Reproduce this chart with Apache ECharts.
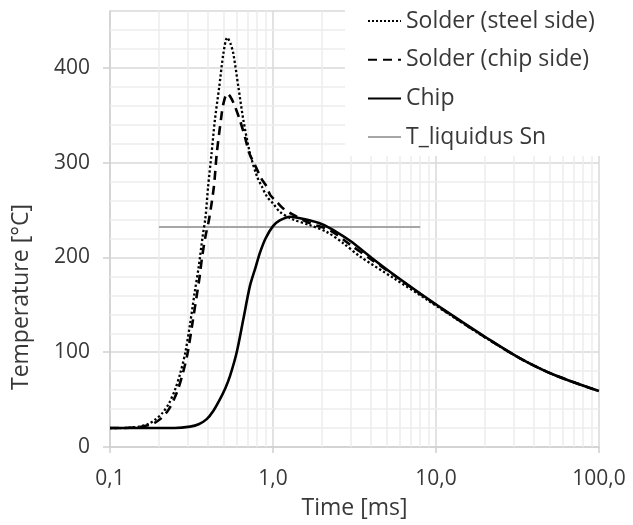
<!DOCTYPE html>
<html>
<head>
<meta charset="utf-8">
<script src="https://cdn.jsdelivr.net/npm/echarts@6/dist/echarts.min.js"></script>
<style>
html,body{margin:0;padding:0;background:#fff;}
#chart{width:633px;height:525px;}
</style>
</head>
<body>
<div id="chart"></div>
<script>
// ---- data ----
var steelTime = [0.1,0.12,0.15,0.17,0.19,0.21,0.23,0.25,0.27,0.29,0.31,0.33,0.35,0.37,0.385,0.40,0.42,0.44,0.468,0.496,0.524,0.55,0.571,0.613,0.658,0.722,0.80,0.853,0.92,1.0,1.104,1.33,1.69,2.13,2.7,3.42,5.47,8.77,12.8,20.5,32.8,52.4,100];
var steelTemp = [20,20,21.5,24,29,36,46,60,78,100,130,162,190,222,242,275,310,345,380,415,432,425,415,380,345,310,285,275,264,257,248,240,234,227,215,201,178.4,155.6,137,114.5,93.5,76.5,59];

var chipSideTime = [0.1,0.12,0.15,0.18,0.203,0.23,0.257,0.28,0.3,0.32,0.34,0.355,0.367,0.385,0.405,0.434,0.452,0.479,0.496,0.524,0.545,0.576,0.626,0.673,0.715,0.772,0.85,0.913,0.96,1.05,1.15,1.3,1.69,2.22,3,4,5.5,8,12.8,20.5,32.8,52.4,100];
var chipSideTemp = [20,20,21,24,29.4,40,57.5,78,100,130,159,180,200,222,240,275,310,345,362,373,370,362,345,327,310,298,283,275,266,259,252,246,236,229,213,198,181.5,161.5,137.5,114.7,93.5,76.5,59];

var chipTime = [0.1,0.2,0.25,0.31,0.35,0.392,0.43,0.473,0.51,0.545,0.599,0.658,0.722,0.78,0.832,0.9,1.0,1.1,1.27,1.6,2.0,2.5,3,4,5.5,8,12.8,20.5,32.8,52.4,100];
var chipTemp = [20,20,20,21.5,24,29.4,38,50.5,62,75,100,135,170,189,205,220,233,239,243,240,235,226,217,200,182,162,138,115,93.5,76.5,59];

var liquidusTime = [0.2, 8];
var liquidusTemp = [232, 232];

var xMinorGrid = [0.2,0.3,0.4,0.5,0.6,0.7,0.8,0.9,2,3,4,5,6,7,8,9,20,30,40,50,60,70,80,90];
var yMinorGrid = [20,40,60,80,120,140,160,180,220,240,260,280,320,340,360,380,420,440];

var seriesNames = ['Solder (steel side)','Solder (chip side)','Chip','T_liquidus Sn'];

function zip(a, b){ return a.map(function(v,i){ return [v, b[i]]; }); }

var gridLines = [];
xMinorGrid.forEach(function(v){ gridLines.push({xAxis: v}); });
yMinorGrid.forEach(function(v){ gridLines.push({yAxis: v}); });

var FONT = '"Open Sans", "Liberation Sans", sans-serif';
var TXT = '#383838';

var chart = echarts.init(document.getElementById('chart'), null, {renderer:'canvas'});
chart.setOption({
  animation: false,
  backgroundColor: '#fff',
  textStyle: {fontFamily: FONT},
  grid: {left: 110, right: 34, top: 11, bottom: 77, containLabel: false},
  legend: {
    data: seriesNames,
    orient: 'vertical',
    left: 345, top: 0,
    padding: [8, 10, 6, 22],
    backgroundColor: '#fff',
    itemWidth: 33, itemHeight: 14, itemGap: 12.7,
    itemStyle: {opacity: 0, borderWidth: 0},
    textStyle: {fontSize: 23, color: TXT, fontFamily: FONT, lineHeight: 26},
    z: 10
  },
  xAxis: {
    type: 'log', logBase: 10, min: 0.1, max: 100,
    name: 'Time [ms]', nameLocation: 'middle', nameGap: 50,
    nameTextStyle: {fontSize: 23, color: TXT, fontFamily: FONT},
    axisLine: {show: true, lineStyle: {color: '#d0d0d0', width: 1.5}},
    axisTick: {show: true, length: 6, lineStyle: {color: '#d0d0d0', width: 1.5}},
    axisLabel: {fontSize: 21, color: TXT, margin: 22, fontFamily: FONT,
      formatter: function(v){ return Number(v).toFixed(1).replace('.', ','); }},
    splitLine: {show: true, lineStyle: {color: '#d9d9d9', width: 1.5}},
    minorTick: {show: false}, minorSplitLine: {show: false}
  },
  yAxis: {
    type: 'value', min: 0, max: 460, interval: 100,
    axisLine: {show: true, lineStyle: {color: '#d0d0d0', width: 1.5}},
    axisTick: {show: true, length: 7, lineStyle: {color: '#d0d0d0', width: 1.5}},
    axisLabel: {fontSize: 21, color: TXT, margin: 20, fontFamily: FONT, showMaxLabel: false},
    splitLine: {show: true, lineStyle: {color: '#d9d9d9', width: 1.5}}
  },
  graphic: [{
    type: 'text', x: 21, y: 297, rotation: Math.PI/2,
    style: {text: 'Temperature [°C]', fontSize: 23, fill: TXT, fontFamily: FONT,
      textAlign: 'center', textVerticalAlign: 'middle'}
  }],
  series: [
    {
      name: 'grid', type: 'line', data: zip(liquidusTime, liquidusTemp),
      lineStyle: {opacity: 0}, symbol: 'none', silent: true, z: 0,
      markLine: {
        silent: true, symbol: 'none', z: 1, label: {show: false},
        lineStyle: {color: '#ececec', width: 1.5, type: 'solid'},
        emphasis: {disabled: true},
        data: gridLines
      }
    },
    {
      name: seriesNames[0], type: 'line', data: zip(steelTime, steelTemp),
      symbol: 'none', smooth: 0.3, z: 3,
      lineStyle: {color: '#000', width: 2.3, type: 'dotted'},
      itemStyle: {color: '#000'}
    },
    {
      name: seriesNames[1], type: 'line', data: zip(chipSideTime, chipSideTemp),
      symbol: 'none', smooth: 0.3, z: 3,
      lineStyle: {color: '#000', width: 2.6, type: [9, 6]},
      itemStyle: {color: '#000'}
    },
    {
      name: seriesNames[2], type: 'line', data: zip(chipTime, chipTemp),
      symbol: 'none', smooth: 0.3, z: 3,
      lineStyle: {color: '#000', width: 2.6, type: 'solid'},
      itemStyle: {color: '#000'}
    },
    {
      name: seriesNames[3], type: 'line', data: zip(liquidusTime, liquidusTemp),
      symbol: 'none', z: 2,
      lineStyle: {color: '#a6a6a6', width: 2},
      itemStyle: {color: '#a6a6a6'}
    }
  ]
});
</script>
</body>
</html>
